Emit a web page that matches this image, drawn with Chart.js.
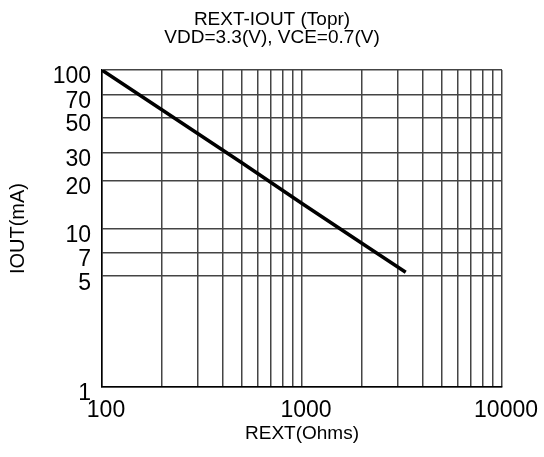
<!DOCTYPE html>
<html>
<head>
<meta charset="utf-8">
<script src="https://cdn.jsdelivr.net/npm/chart.js@4/dist/chart.umd.min.js"></script>
<style>
  body { margin: 0; background: #fff; }
  canvas { display: block; }
</style>
</head>
<body>
<canvas id="myChart" width="544" height="457"></canvas>
<script>
// curva REXT vs IOUT
var rextValues = [100, 200, 500, 1000, 2000, 3300];
var ioutValues = [100, 56, 26, 14.4, 8.05, 5.3];

// ticks / lineas de rejilla
var xGridTicks = [100, 200, 300, 400, 500, 600, 700, 800, 900, 1000,
                  2000, 3000, 4000, 5000, 6000, 7000, 8000, 9000, 10000];
var xTickLabels = [100, 1000, 10000];
var yTicks = [1, 5, 7, 10, 20, 30, 50, 70, 100];

var titleLines = ['REXT-IOUT (Topr)', 'VDD=3.3(V), VCE=0.7(V)'];
var xTitle = 'REXT(Ohms)';
var yTitle = 'IOUT(mA)';

var fontFam = 'Liberation Sans, Arial, sans-serif';

var points = [];
for (var i = 0; i < rextValues.length; i++) {
    points.push({ x: rextValues[i], y: ioutValues[i] });
}

var ctx = document.getElementById('myChart').getContext('2d');
var myChart = new Chart(ctx, {
    type: 'line',
    data: {
        datasets: [{
            label: 'IOUT',
            data: points,
            borderColor: '#000',
            borderWidth: 3.5,
            pointRadius: 0,
            tension: 0,
            fill: false
        }]
    },
    options: {
        responsive: false,
        animation: false,
        layout: { padding: 0 },
        plugins: {
            legend: { display: false },
            tooltip: { enabled: false },
            title: {
                display: true,
                text: titleLines,
                color: '#000',
                font: { family: fontFam, size: 19, weight: 'normal', lineHeight: 0.95 },
                padding: { top: 11, bottom: 23 }
            }
        },
        scales: {
            x: {
                type: 'logarithmic',
                min: 100,
                max: 10000,
                afterBuildTicks: function (scale) {
                    scale.ticks = xGridTicks.map(function (v) { return { value: v }; });
                },
                afterFit: function (scale) { scale.height = 70; },
                border: { display: true, color: '#000', width: 1.5 },
                grid: {
                    drawTicks: false,
                    color: '#444',
                    lineWidth: 1.5
                },
                ticks: {
                    autoSkip: false,
                    maxRotation: 0,
                    padding: 10,
                    labelOffset: 4,
                    color: '#000',
                    font: { family: fontFam, size: 23 },
                    callback: function (value) {
                        return xTickLabels.indexOf(value) >= 0 ? String(value) : '';
                    }
                },
                title: {
                    display: true,
                    text: xTitle,
                    color: '#000',
                    font: { family: fontFam, size: 19 },
                    padding: { top: 0, bottom: 12 }
                }
            },
            y: {
                type: 'logarithmic',
                min: 1,
                max: 100,
                afterBuildTicks: function (scale) {
                    scale.ticks = yTicks.map(function (v) { return { value: v }; });
                },
                afterFit: function (scale) { scale.width = 102; },
                border: { display: true, color: '#000', width: 1.5 },
                grid: {
                    drawTicks: false,
                    color: '#444',
                    lineWidth: 1.5
                },
                ticks: {
                    autoSkip: false,
                    padding: 11,
                    labelOffset: 7,
                    color: '#000',
                    font: { family: fontFam, size: 23 },
                    callback: function (value) { return String(value); }
                },
                title: {
                    display: true,
                    text: yTitle,
                    color: '#000',
                    font: { family: fontFam, size: 20 },
                    padding: { top: 6, bottom: 0 }
                }
            }
        }
    }
});
</script>
</body>
</html>
